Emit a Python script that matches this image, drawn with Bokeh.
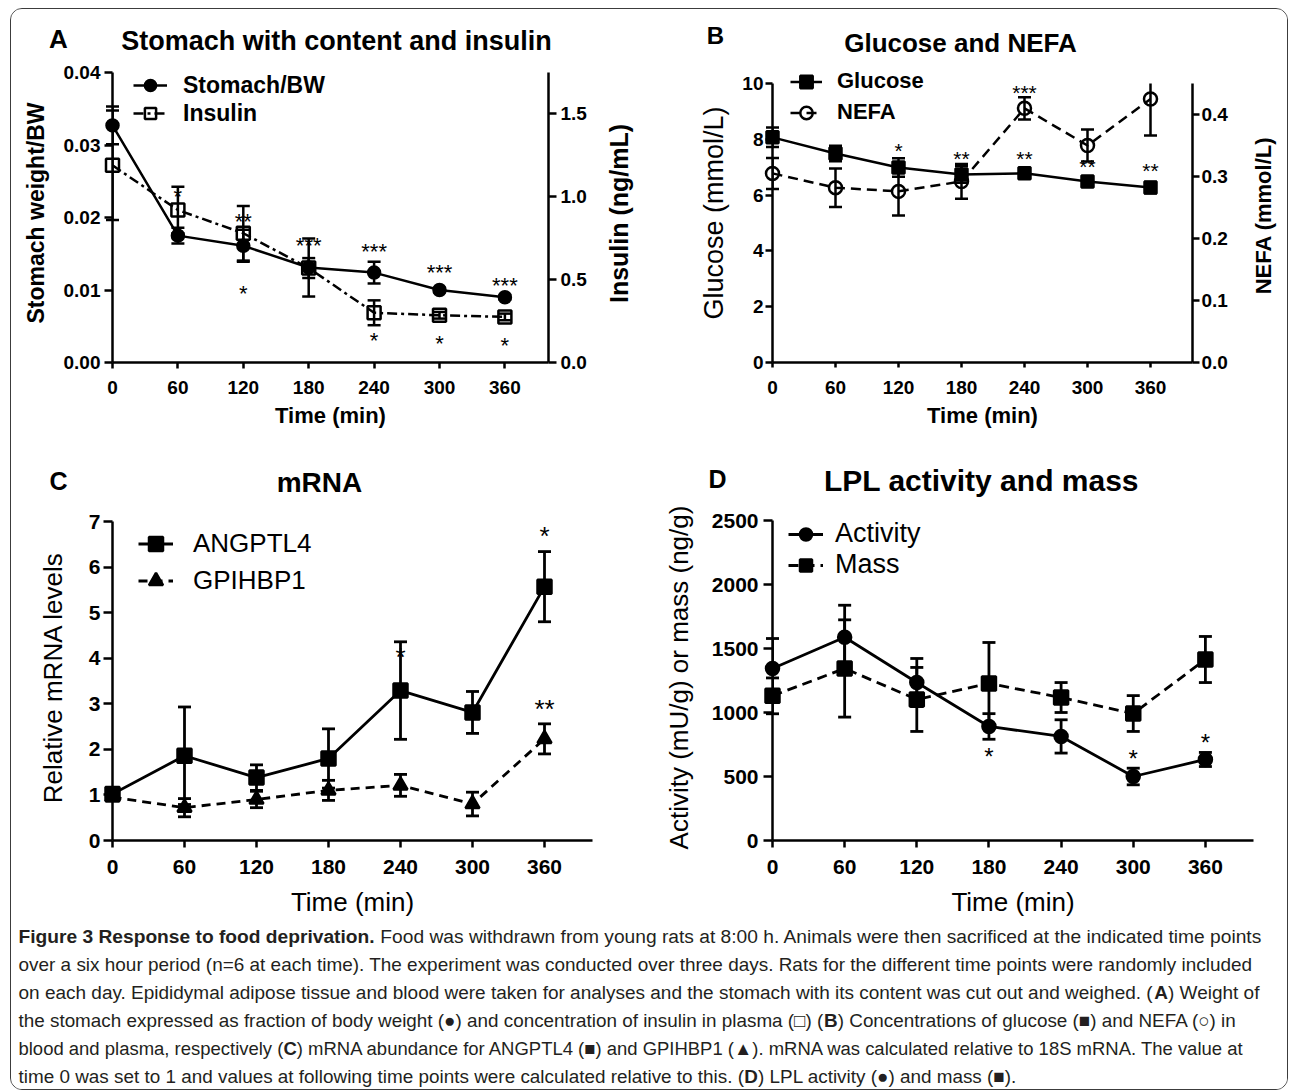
import math
from bokeh.plotting import figure
from bokeh.models import (Range1d, LinearAxis, FixedTicker, NumeralTickFormatter,
                          Legend, LegendItem, ColumnDataSource)
from bokeh.layouts import row, column
from bokeh.core.properties import value
from bokeh.embed import file_html
from bokeh.resources import INLINE

FONT = "Liberation Sans"
INK = "black"

# ---------------- data ----------------
time_min = [0, 60, 120, 180, 240, 300, 360]
time_ticks = [0, 60, 120, 180, 240, 300, 360]

# A: stomach with content (fraction of BW) and insulin (ng/mL)
stomach_bw = [0.0327, 0.0175, 0.0161, 0.0131, 0.0124, 0.0100, 0.0090]
stomach_bw_sem = [0.0026, 0.0011, 0.0022, 0.0040, 0.0015, 0.0003, 0.0003]
insulin = [1.19, 0.92, 0.78, 0.57, 0.30, 0.285, 0.275]
insulin_sem = [0.33, 0.14, 0.165, 0.06, 0.075, 0.02, 0.02]
stomach_ticks = [0, 0.01, 0.02, 0.03, 0.04]
insulin_ticks = [0, 0.5, 1.0, 1.5]
stars_a_time = [60, 120, 120, 180, 240, 240, 300, 300, 360, 360]
stars_a_level = [0.0233, 0.0198, 0.0100, 0.0165, 0.0157, 0.0034, 0.0128, 0.0031, 0.0110, 0.0028]
stars_a_text = ["*", "**", "*", "***", "***", "*", "***", "*", "***", "*"]

# B: glucose (mmol/L) and NEFA (mmol/L)
glucose = [8.07, 7.49, 6.99, 6.74, 6.78, 6.49, 6.27]
glucose_sem = [0.35, 0.28, 0.33, 0.30, 0.12, 0.08, 0.20]
nefa = [0.305, 0.282, 0.276, 0.292, 0.410, 0.350, 0.425]
nefa_sem = [0.025, 0.031, 0.039, 0.028, 0.018, 0.026, 0.059]
glucose_ticks = [0, 2, 4, 6, 8, 10]
nefa_ticks = [0, 0.1, 0.2, 0.3, 0.4]
stars_b_time = [120, 180, 240, 240, 300, 360]
stars_b_level = [7.7, 7.42, 9.78, 7.42, 7.13, 7.0]
stars_b_text = ["*", "**", "***", "**", "**", "**"]

# C: relative mRNA levels
angptl4 = [1.02, 1.86, 1.38, 1.80, 3.29, 2.81, 5.57]
angptl4_sem = [0.10, 1.07, 0.28, 0.65, 1.07, 0.46, 0.77]
gpihbp1 = [0.95, 0.72, 0.90, 1.10, 1.21, 0.80, 2.23]
gpihbp1_sem = [0.08, 0.20, 0.18, 0.22, 0.24, 0.26, 0.33]
mrna_ticks = [0, 1, 2, 3, 4, 5, 6, 7]
stars_c_time = [240, 360, 360]
stars_c_level = [4.1, 6.75, 2.96]
stars_c_text = ["*", "*", "**"]

# D: LPL activity (mU/g) and mass (ng/g)
lpl_activity = [1344, 1588, 1234, 891, 813, 500, 633]
lpl_activity_sem = [234, 250, 188, 100, 130, 65, 55]
lpl_mass = [1130, 1344, 1102, 1227, 1117, 992, 1414]
lpl_mass_sem = [140, 380, 250, 320, 117, 140, 180]
lpl_ticks = [0, 500, 1000, 1500, 2000, 2500]
stars_d_time = [180, 300, 360]
stars_d_level = [680, 664, 789]
stars_d_text = ["*", "*", "*"]

# axis extents
X_END = 400
A_LEFT_END, A_RIGHT_END = 0.04, 1.75
B_LEFT_END, B_RIGHT_END = 10, 0.45
C_END = 7
D_END = 2500

CAPTION = [
    [("Figure 3 Response to food deprivation.", True),
     (" Food was withdrawn from young rats at 8:00 h. Animals were then sacrificed at the indicated time points", False)],
    [("over a six hour period (n=6 at each time). The experiment was conducted over three days. Rats for the different time points were randomly included", False)],
    [("on each day. Epididymal adipose tissue and blood were taken for analyses and the stomach with its content was cut out and weighed. (", False),
     ("A", True), (") Weight of", False)],
    [("the stomach expressed as fraction of body weight (\u25cf) and concentration of insulin in plasma (\u25a1) (", False),
     ("B", True), (") Concentrations of glucose (\u25a0) and NEFA (\u25cb) in", False)],
    [("blood and plasma, respectively (", False), ("C", True),
     (") mRNA abundance for ANGPTL4 (\u25a0) and GPIHBP1 (\u25b2). mRNA was calculated relative to 18S mRNA. The value at", False)],
    [("time 0 was set to 1 and values at following time points were calculated relative to this. (", False),
     ("D", True), (") LPL activity (\u25cf) and mass (\u25a0).", False)],
]

# ---------------- layout (page pixel coordinates) ----------------
OX, OY = 11, 9                 # content origin inside the 1px rounded border
W_ALL = 1276
H_H1, H_R1, H_H2, H_R2, H_C = 51, 381, 60, 418, 170
Y_H1 = OY
Y_R1 = Y_H1 + H_H1             # 60
Y_H2 = Y_R1 + H_R1             # 441
Y_R2 = Y_H2 + H_H2             # 501
Y_C = Y_R2 + H_R2              # 919
CAP = 13                       # error bar cap width


def blank(w, h, xr, yr):
    p = figure(width=w, height=h, x_range=xr, y_range=yr,
               x_axis_location=None, y_axis_location=None, min_border=0,
               output_backend="svg", toolbar_location=None)
    p.outline_line_color = None
    p.grid.visible = False
    p.border_fill_color = "white"
    p.background_fill_color = "white"
    return p


def panel(fx0, fy0, w, h, fl, fr, ft, fb, axis_top, y_top):
    """Frame spans fl..fr, ft..fb; the y axis stops at axis_top (value y_top)."""
    y_end = y_top * (fb - ft) / (fb - axis_top)
    p = figure(width=w, height=h,
               x_range=Range1d(0, X_END), y_range=Range1d(0, y_end),
               min_border_left=fl - fx0, min_border_right=fx0 + w - fr,
               min_border_top=ft - fy0, min_border_bottom=fy0 + h - fb,
               output_backend="svg", toolbar_location=None)
    p.outline_line_color = None
    p.grid.visible = False
    p.background_fill_color = "white"
    p.border_fill_color = "white"
    p.yaxis[0].bounds = (0, y_top)
    return p, dict(fl=fl, fr=fr, ft=ft, fb=fb, ratio=(fb - ft) / (fb - axis_top))


def style_axis(ax, ticks, tick_fs, tick_out, standoff, fmt=None):
    ax.ticker = FixedTicker(ticks=ticks)
    if fmt:
        ax.formatter = NumeralTickFormatter(format=fmt)
    ax.axis_line_width = 2.5
    ax.axis_line_color = INK
    ax.major_tick_line_width = 2.5
    ax.major_tick_line_color = INK
    ax.major_tick_in = 0
    ax.major_tick_out = tick_out
    ax.minor_tick_line_color = None
    ax.major_label_text_font = FONT
    ax.major_label_text_font_style = "bold"
    ax.major_label_text_font_size = f"{tick_fs}px"
    ax.major_label_text_color = INK
    ax.major_label_standoff = standoff


def axis_title(ax, text, size, bold, standoff):
    ax.axis_label = text
    ax.axis_label_text_font = FONT
    ax.axis_label_text_font_size = f"{size}px"
    ax.axis_label_text_font_style = "bold" if bold else "normal"
    ax.axis_label_text_color = INK
    ax.axis_label_standoff = standoff


def right_axis(p, g, name, top_value, ticks, tick_out, standoff):
    p.extra_y_ranges = {name: Range1d(0, top_value * g["ratio"])}
    ax = LinearAxis(y_range_name=name, bounds=(0, top_value))
    style_axis(ax, ticks, 19, tick_out, standoff, "0.0")
    p.add_layout(ax, "right")


def series(p, x, y, err, marker, size, fill, dash, rng="default", lw=2.5, clip_top=None):
    lo = [a - b for a, b in zip(y, err)]
    hi = [a + b for a, b in zip(y, err)]
    top = [h if clip_top is None else min(h, clip_top) for h in hi]
    src = ColumnDataSource(dict(x=x, y=y, lo=lo, hi=top))
    capx = [xx for xx, h in zip(x, hi) if clip_top is None or h <= clip_top]
    caph = [h for h in hi if clip_top is None or h <= clip_top]
    kw = dict(y_range_name=rng)
    p.segment(x0="x", y0="lo", x1="x", y1="hi", line_width=lw, line_color=INK, source=src, **kw)
    p.scatter(x="x", y="lo", marker="dash", size=CAP, line_width=lw, line_color=INK,
              source=src, level="overlay", **kw)
    p.scatter(x=capx, y=caph, marker="dash", size=CAP, line_width=lw, line_color=INK,
              level="overlay", **kw)
    ln = p.line(x="x", y="y", line_width=lw, line_color=INK, line_dash=dash, source=src, **kw)
    sc = p.scatter(x="x", y="y", marker=marker, size=size, fill_color=fill,
                   line_color=INK, line_width=2.5, source=src, level="overlay", **kw)
    return ln, sc


def legend(p, g, entries, row1_y, row_h, gx0, gw, tx, fs, bold):
    n = len(entries)
    top_off = (row1_y - row_h / 2) - g["ft"]
    frame_h = g["fb"] - g["ft"]
    vy = frame_h - top_off - n * row_h
    vx = gx0 - g["fl"]
    lg = Legend(items=[LegendItem(label=t, renderers=list(r)) for t, r in entries],
                location=(vx, vy), orientation="vertical",
                glyph_width=int(gw), glyph_height=int(row_h), label_height=int(row_h),
                label_standoff=int(tx - gx0 - gw),
                label_text_font=FONT, label_text_font_size=f"{fs}px",
                label_text_font_style="bold" if bold else "normal",
                label_text_color=INK,
                padding=0, margin=0, spacing=0,
                border_line_color=None, background_fill_alpha=0)
    p.add_layout(lg)


def stars(p, x, y, t, fs):
    p.text(x=x, y=y, text=t, text_font=value(FONT), text_font_size=value(f"{fs}px"),
           text_align="center", text_baseline="middle", y_offset=round(0.12 * fs),
           text_color=INK, level="overlay")


def put_text(p, x, y, text, size, bold=True, angle=0.0):
    p.text(x=[x], y=[y], text=[text], text_font=value(FONT), text_font_size=value(f"{size}px"),
           text_font_style="bold" if bold else "normal", text_align="center",
           text_baseline="middle", angle=angle, text_color=INK)


def side_label(x0, w, ft, fb, fy0, fh, xc, yc, text, size):
    """Narrow strip holding a rotated right-axis title; its frame matches the panel's."""
    p = figure(width=w, height=fh, x_range=Range1d(0, w), y_range=Range1d(0, 1),
               x_axis_location=None, y_axis_location=None,
               min_border_left=0, min_border_right=0,
               min_border_top=ft - fy0, min_border_bottom=fy0 + fh - fb,
               output_backend="svg", toolbar_location=None)
    p.outline_line_color = None
    p.grid.visible = False
    p.border_fill_color = "white"
    p.background_fill_color = "white"
    put_text(p, xc - x0, (fb - yc) / (fb - ft), text, size, True, math.pi / 2)
    return p


# ---------------- headers (panel letters and titles) ----------------
h1 = blank(W_ALL, H_H1, Range1d(OX, OX + W_ALL), Range1d(Y_H1 + H_H1, Y_H1))
put_text(h1, 58, 38, "A", 26)
put_text(h1, 336, 40, "Stomach with content and insulin", 27)
put_text(h1, 715, 35, "B", 24)
put_text(h1, 960, 42, "Glucose and NEFA", 26)

h2 = blank(W_ALL, H_H2, Range1d(OX, OX + W_ALL), Range1d(Y_H2 + H_H2, Y_H2))
put_text(h2, 58, 480, "C", 25)
put_text(h2, 319, 482, "mRNA", 28)
put_text(h2, 717, 478, "D", 25)
put_text(h2, 981, 480, "LPL activity and mass", 30)

# ---------------- panel A ----------------
XA, WA = OX, 587            # 11..598
XNA, WNA = XA + WA, 42      # 598..640
XB, WB = XNA + WNA, 600     # 640..1240
XNB, WNB = XB + WB, 47      # 1240..1287

pA, gA = panel(XA, Y_R1, WA, H_R1, 112, 548, 63, 362, 72, A_LEFT_END)
style_axis(pA.xaxis[0], time_ticks, 19, 6, 12)
axis_title(pA.xaxis[0], "Time (min)", 22, True, 6)
style_axis(pA.yaxis[0], stomach_ticks, 19, 8, 4, "0.00")
axis_title(pA.yaxis[0], "Stomach weight/BW", 23, True, 12)
right_axis(pA, gA, "r", A_RIGHT_END, insulin_ticks, 8, 4)

lA1 = series(pA, time_min, stomach_bw, stomach_bw_sem, "circle", 12, INK, "solid")
lA2 = series(pA, time_min, insulin, insulin_sem, "square", 13, None, "10 4 3 4", rng="r")
stars(pA, stars_a_time, stars_a_level, stars_a_text, 22)
legend(pA, gA, [("Stomach/BW", lA1), ("Insulin", lA2)], 85, 28, 133, 34, 183, 23, True)
nA = side_label(XNA, WNA, 63, 362, Y_R1, H_R1, 618, 213, "Insulin (ng/mL)", 25)

# ---------------- panel B ----------------
pB, gB = panel(XB, Y_R1, WB, H_R1, 772, 1192, 63, 362, 83, B_LEFT_END)
style_axis(pB.xaxis[0], time_ticks, 19, 5, 13)
axis_title(pB.xaxis[0], "Time (min)", 22, True, 6)
style_axis(pB.yaxis[0], glucose_ticks, 19, 7, 2)
axis_title(pB.yaxis[0], "Glucose (mmol/L)", 27, False, 10)
right_axis(pB, gB, "r", B_RIGHT_END, nefa_ticks, 7, 2)

lB1 = series(pB, time_min, glucose, glucose_sem, "square", 12, INK, "solid")
lB2 = series(pB, time_min, nefa, nefa_sem, "circle", 13, None, "10 6", rng="r",
             clip_top=B_RIGHT_END)
stars(pB, stars_b_time, stars_b_level, stars_b_text, 21)
legend(pB, gB, [("Glucose", lB1), ("NEFA", lB2)], 81, 31, 790, 32, 837, 22, True)
nB = side_label(XNB, WNB, 63, 362, Y_R1, H_R1, 1263, 215, "NEFA (mmol/L)", 22)

# ---------------- panel C ----------------
XC, WC = OX, 639            # 11..650
XD, WD = XC + WC, 637       # 650..1287

pC, gC = panel(XC, Y_R2, WC, H_R2, 112, 592, 514, 840, 521, C_END)
style_axis(pC.xaxis[0], time_ticks, 21, 7, 12)
axis_title(pC.xaxis[0], "Time (min)", 26, False, 10)
style_axis(pC.yaxis[0], mrna_ticks, 21, 9, 3)
axis_title(pC.yaxis[0], "Relative mRNA levels", 26, False, 18)

lC1 = series(pC, time_min, angptl4, angptl4_sem, "square", 14, INK, "solid", lw=2.8)
lC2 = series(pC, time_min, gpihbp1, gpihbp1_sem, "triangle", 14, INK, "9 6", lw=2.8)
stars(pC, stars_c_time, stars_c_level, stars_c_text, 26)
legend(pC, gC, [("ANGPTL4", lC1), ("GPIHBP1", lC2)], 543, 37, 138, 35, 193, 26, False)

# ---------------- panel D ----------------
pD, gD = panel(XD, Y_R2, WD, H_R2, 772, 1253, 514, 840, 520, D_END)
style_axis(pD.xaxis[0], time_ticks, 21, 7, 12)
axis_title(pD.xaxis[0], "Time (min)", 26, False, 10)
style_axis(pD.yaxis[0], lpl_ticks, 21, 9, 5)
axis_title(pD.yaxis[0], "Activity (mU/g) or mass (ng/g)", 26, False, 15)

lD1 = series(pD, time_min, lpl_activity, lpl_activity_sem, "circle", 13, INK, "solid", lw=2.8)
lD2 = series(pD, time_min, lpl_mass, lpl_mass_sem, "square", 14, INK, "10 6", lw=2.8)
stars(pD, stars_d_time, stars_d_level, stars_d_text, 24)
legend(pD, gD, [("Activity", lD1), ("Mass", lD2)], 535, 30, 788, 35, 835, 27, False)

# ---------------- caption ----------------
_UP = "ABCDEFGHIJKLMNOPQRSTUVWXYZ"
_LO = "abcdefghijklmnopqrstuvwxyz"
_RU = [667, 667, 722, 722, 667, 611, 778, 722, 278, 500, 667, 556, 833, 722, 778, 667, 778, 722, 667, 611, 722, 667, 944, 667, 667, 611]
_RL = [556, 556, 500, 556, 556, 278, 556, 556, 222, 222, 500, 222, 833, 556, 556, 556, 556, 333, 500, 278, 556, 500, 722, 500, 500, 500]
_BU = [722, 722, 722, 722, 667, 611, 778, 722, 278, 556, 722, 611, 833, 722, 778, 667, 778, 722, 667, 611, 722, 667, 944, 667, 667, 611]
_BL = [556, 611, 556, 611, 556, 333, 611, 611, 278, 278, 556, 278, 889, 611, 611, 611, 611, 389, 556, 333, 611, 556, 778, 556, 556, 500]
_PR = {" ": 278, ".": 278, ",": 278, "(": 333, ")": 333, ":": 278, "=": 584, "-": 333, "/": 278,
       "\u25cf": 604, "\u25a1": 604, "\u25a0": 604, "\u25cb": 604, "\u25b2": 990}
_PB = dict(_PR, **{":": 333})
MET_R = dict(zip(_UP, _RU)); MET_R.update(zip(_LO, _RL)); MET_R.update(_PR)
MET_B = dict(zip(_UP, _BU)); MET_B.update(zip(_LO, _BL)); MET_B.update(_PB)
for d in "0123456789":
    MET_R[d] = 556
    MET_B[d] = 556


def em(s, bold):
    m = MET_B if bold else MET_R
    return sum(m.get(c, 556) for c in s) / 1000.0


CAP_X0 = 18
cap_ends = [1263, 1252, 1259, 1238, 1246]
fits = [(e - CAP_X0) / sum(em(t, b) for t, b in ln) for e, ln in zip(cap_ends, CAPTION)]
fs_mean = sum(fits) / len(fits)
line_fs = [min(max(f, fs_mean * 0.97), fs_mean * 1.03) for f in fits] + [fs_mean]

pCap = blank(W_ALL, H_C, Range1d(OX, OX + W_ALL), Range1d(Y_C + H_C, Y_C))
xs, ys, ts, st, sz = [], [], [], [], []
for i, ln in enumerate(CAPTION):
    fs = round(line_fs[i], 2)
    x = CAP_X0
    yv = 936 + 28 * i
    for t, b in ln:
        lead = len(t) - len(t.lstrip(" "))
        x += em(" " * lead, b) * fs
        xs.append(x); ys.append(yv); ts.append(t.strip(" "))
        st.append("bold" if b else "normal"); sz.append(f"{fs}px")
        x += em(t.lstrip(" "), b) * fs
capsrc = ColumnDataSource(dict(x=xs, y=ys, text=ts, style=st, size=sz))
pCap.text(x="x", y="y", text="text", source=capsrc, text_font=value(FONT),
          text_font_size="size", text_font_style="style",
          text_baseline="middle", text_align="left", text_color="#231f20")

layout = column(h1, row(pA, nA, pB, nB), h2, row(pC, pD), pCap,
                styles={"border": "1px solid #3c3c3c", "border-radius": "12px",
                        "overflow": "hidden", "background-color": "white",
                        "margin-left": "10px", "margin-top": "8px"})

open("out.html", "w").write(file_html(layout, INLINE))
